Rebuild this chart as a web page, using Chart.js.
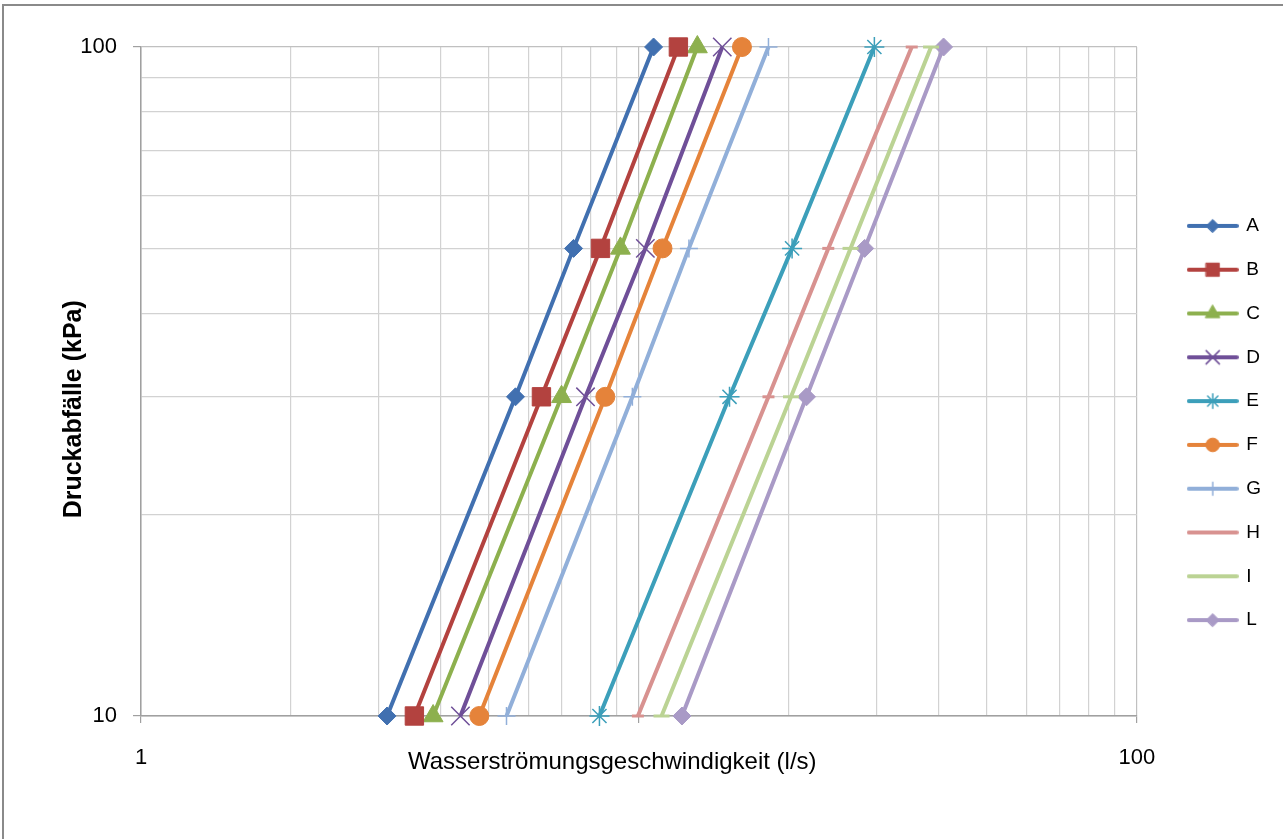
<!DOCTYPE html>
<html>
<head>
<meta charset="utf-8">
<script src="https://cdn.jsdelivr.net/npm/chart.js@4.4.1/dist/chart.umd.min.js"></script>
<style>
    html, body { margin: 0; padding: 0; background: #fff; }
    #wrap { position: relative; width: 1283px; height: 839px; overflow: hidden; }
    #frame { position: absolute; left: 2px; top: 4px; width: 1300px; height: 860px;
             border-left: 2px solid #8a8a8a; border-top: 2px solid #8a8a8a; pointer-events: none; }
</style>
</head>
<body>
<div id="wrap">
    <canvas id="flowChart" width="1283" height="839"></canvas>
    <div id="frame"></div>
</div>
<script>
// pressure drop (kPa) for each reading
const pressure = [10, 30, 50, 100];

// water flow (l/s) per series
const seriesNames = ["A", "B", "C", "D", "E", "F", "G", "H", "I", "L"];
const flowA = [3.12, 5.65, 7.39, 10.7];
const flowB = [3.54, 6.37, 8.37, 12.0];
const flowC = [3.86, 6.99, 9.18, 13.1];
const flowD = [4.38, 7.81, 10.3, 14.7];
const flowE = [8.33, 15.2, 20.3, 29.7];
const flowF = [4.78, 8.56, 11.15, 16.1];
const flowG = [5.42, 9.70, 12.6, 18.2];
const flowH = [9.95, 18.2, 24.0, 35.3];
const flowI = [11.1, 20.2, 26.6, 38.6];
const flowL = [12.2, 21.7, 28.4, 40.9];
const flows = [flowA, flowB, flowC, flowD, flowE, flowF, flowG, flowH, flowI, flowL];

// grid values and the ones that get a label
const xGrid = [1, 2, 3, 4, 5, 6, 7, 8, 9, 10, 20, 30, 40, 50, 60, 70, 80, 90, 100];
const yGrid = [10, 20, 30, 40, 50, 60, 70, 80, 90, 100];
const xTickLabels = [1, 100];
const yTickLabels = [10, 100];

const colors = ["#4170b0", "#b3423f", "#8db04e", "#6f4f98", "#3c9fba",
                "#e5833a", "#91afd9", "#d89290", "#bbd394", "#a99ac6"];
const markers = ["rectRot", "rect", "triangle", "crossRot", "star",
                 "circle", "cross", "line", "line", "rectRot"];
const markerSize = [9, 13, 11.5, 13, 10, 9.5, 9, 6, 8, 9];
const markerBorder = [1, 1, 1, 1.5, 1.5, 1, 1.5, 3, 3, 1];

const FONT = "'Liberation Sans', Arial, sans-serif";

// little line + marker picture for the legend
function legendIcon(i) {
    const c = document.createElement('canvas');
    c.width = 52; c.height = 24;
    const g = c.getContext('2d');
    g.strokeStyle = colors[i];
    g.fillStyle = colors[i];
    g.lineWidth = 4;
    g.lineCap = 'round';
    g.beginPath(); g.moveTo(2, 12); g.lineTo(50, 12); g.stroke();
    if (markers[i] !== 'line') {
        g.lineWidth = markerBorder[i];
        Chart.helpers.drawPoint(g, {
            pointStyle: markers[i], rotation: 0,
            radius: markerSize[i] * 0.72, borderWidth: markerBorder[i]
        }, 26, 12);
    }
    return c;
}
const legendIcons = seriesNames.map((n, i) => legendIcon(i));

const datasets = seriesNames.map((name, i) => ({
    label: name,
    data: flows[i].map((q, k) => ({ x: q, y: pressure[k] })),
    borderColor: colors[i],
    backgroundColor: colors[i],
    borderWidth: 4,
    pointStyle: markers[i],
    pointRadius: markerSize[i],
    pointHoverRadius: markerSize[i],
    pointBorderWidth: markerBorder[i],
    pointBackgroundColor: colors[i],
    pointBorderColor: colors[i],
    clip: false,
    tension: 0
}));

const isMajor = (v) => Math.abs(Math.log10(v) - Math.round(Math.log10(v))) < 1e-9;
const pad = '\u00a0'.repeat(8);

const ctx = document.getElementById('flowChart').getContext('2d');
const flowChart = new Chart(ctx, {
    type: 'line',
    data: { datasets: datasets },
    options: {
        responsive: false,
        animation: false,
        devicePixelRatio: 1,
        layout: { padding: { top: 47, bottom: 40, left: 0, right: 12 } },
        plugins: {
            tooltip: { enabled: false },
            legend: {
                position: 'right',
                labels: {
                    usePointStyle: true,
                    pointStyleWidth: 48,
                    padding: 24.8,
                    color: '#000',
                    font: { family: FONT, size: 19 },
                    generateLabels: function(chart) {
                        const items = Chart.defaults.plugins.legend.labels.generateLabels(chart);
                        return items.map((item, i) => Object.assign(item, { pointStyle: legendIcons[i], rotation: 0 }));
                    }
                }
            }
        },
        scales: {
            x: {
                type: 'logarithmic',
                min: 1,
                max: 100,
                afterBuildTicks: function(scale) { scale.ticks = xGrid.map(v => ({ value: v })); },
                afterFit: function(scale) { scale.height = 83; },
                border: { color: '#a0a0a0', width: 1.5 },
                grid: {
                    color: (c) => isMajor(c.tick.value) ? '#c0c0c0' : '#d2d2d2',
                    lineWidth: 1.2,
                    tickLength: 7,
                    tickColor: (c) => isMajor(c.tick.value) ? '#a0a0a0' : 'rgba(0,0,0,0)'
                },
                ticks: {
                    autoSkip: false,
                    maxRotation: 0,
                    padding: 22,
                    color: '#000',
                    font: { family: FONT, size: 22 },
                    callback: (v) => xTickLabels.includes(v) ? String(v) : ''
                },
                title: {
                    display: true,
                    text: 'Wasserströmungsgeschwindigkeit (l/s)' + pad,
                    color: '#000',
                    font: { family: FONT, size: 24 },
                    padding: { top: 0, bottom: 22 }
                }
            },
            y: {
                type: 'logarithmic',
                min: 10,
                max: 100,
                afterBuildTicks: function(scale) { scale.ticks = yGrid.map(v => ({ value: v })); },
                afterFit: function(scale) { scale.width = 141; },
                border: { color: '#a0a0a0', width: 1.5 },
                grid: {
                    color: (c) => isMajor(c.tick.value) ? '#c0c0c0' : '#d2d2d2',
                    lineWidth: 1.2,
                    tickLength: 8,
                    tickColor: (c) => isMajor(c.tick.value) ? '#a0a0a0' : 'rgba(0,0,0,0)'
                },
                ticks: {
                    autoSkip: false,
                    padding: 16,
                    color: '#000',
                    font: { family: FONT, size: 22 },
                    callback: (v) => yTickLabels.includes(v) ? String(v) : ''
                },
                title: {
                    display: true,
                    text: 'Druckabfälle (kPa)' + pad,
                    color: '#000',
                    font: { family: FONT, size: 25, weight: 'bold' },
                    padding: { top: 59, bottom: 0 }
                }
            },
            // empty spacer between plot and legend
            yr: {
                position: 'right',
                display: true,
                afterFit: function(scale) { scale.width = 27; },
                ticks: { display: false },
                grid: { display: false },
                border: { display: false }
            }
        }
    }
});
</script>
</body>
</html>
